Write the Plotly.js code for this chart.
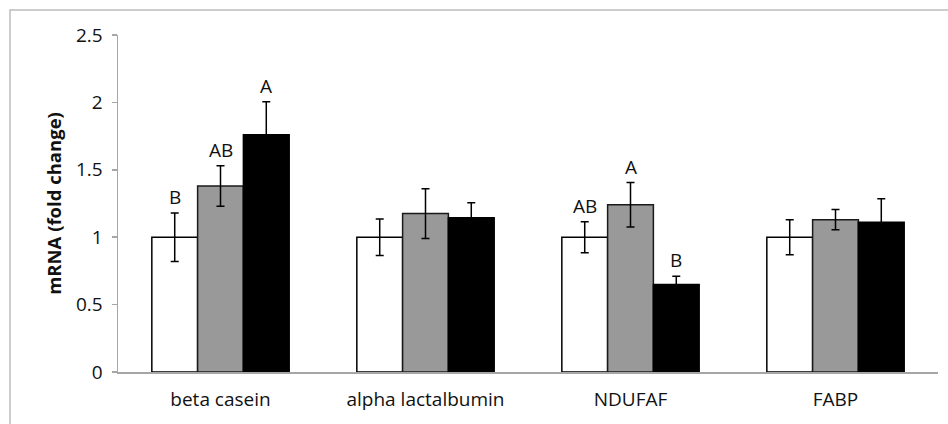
<!DOCTYPE html>
<html>
<head>
<meta charset="utf-8">
<script src="https://cdn.plot.ly/plotly-3.0.1.min.js"></script>
<style>html,body{margin:0;padding:0;background:#fff;}#chart{width:948px;height:424px;}</style>
</head>
<body>
<div id="chart"></div>
<script>
var categories = ["beta casein", "alpha lactalbumin", "NDUFAF", "FABP"];
var group1 = [1.00, 1.00, 1.00, 1.00];
var group1Err = [0.18, 0.135, 0.115, 0.13];
var group2 = [1.38, 1.175, 1.24, 1.13];
var group2Err = [0.15, 0.185, 0.165, 0.075];
var group3 = [1.76, 1.145, 0.65, 1.11];
var group3Err = [0.245, 0.11, 0.06, 0.175];
var letters1 = ["B", "", "AB", ""];
var letters2 = ["AB", "", "A", ""];
var letters3 = ["A", "", "B", ""];

var fills = ["#ffffff", "#999999", "#000000"];
var outlines = ["#000000", "#1a1a1a", "#000000"];
var series = [[group1, group1Err, letters1], [group2, group2Err, letters2], [group3, group3Err, letters3]];

var FONT = "'Open Sans', 'Noto Sans', sans-serif";

var traces = series.map(function (s, i) {
  return {
    type: "bar", x: categories, y: s[0], name: "g" + (i + 1),
    marker: {color: fills[i], line: {color: outlines[i], width: 1.5}},
    error_y: {type: "data", array: s[1], visible: true, color: "#000000", thickness: 1.5, width: 4},
    showlegend: false, hoverinfo: "none"
  };
});

var groupWidth = 0.67, n = 3;
var annotations = [];
series.forEach(function (s, i) {
  s[2].forEach(function (t, j) {
    if (!t) return;
    annotations.push({
      x: j + (i - (n - 1) / 2) * groupWidth / n, y: s[0][j] + s[1][j], xref: "x", yref: "y",
      text: t, showarrow: false, yanchor: "bottom", yshift: 1,
      font: {family: FONT, size: 19, color: "#111"}
    });
  });
});

var layout = {
  width: 948, height: 424,
  margin: {l: 118, r: 10, t: 35, b: 52},
  paper_bgcolor: "#ffffff", plot_bgcolor: "#ffffff",
  barmode: "group", bargap: 0.33, bargroupgap: 0,
  font: {family: FONT, size: 19, color: "#111"},
  xaxis: {
    type: "category", showline: true, linecolor: "#a6a6a6", linewidth: 1.5,
    ticks: "", showgrid: false, zeroline: false, ticklabelstandoff: 10,
    tickfont: {size: 19, color: "#111"}
  },
  yaxis: {
    range: [0, 2.5], dtick: 0.5, showline: true, linecolor: "#a6a6a6", linewidth: 1.5,
    ticks: "outside", ticklen: 5, tickcolor: "#a6a6a6", tickwidth: 1.5, ticklabelstandoff: 5,
    showgrid: false, zeroline: false, tickfont: {size: 19, color: "#111"},
    title: {text: "<b>mRNA (fold change)</b>", font: {size: 18.5, color: "#111"}, standoff: 9}
  },
  annotations: annotations,
  shapes: [{
    type: "rect", xref: "paper", yref: "paper",
    x0: (10 - 118) / 820, x1: (960 - 118) / 820, y0: (372 - 440) / 337, y1: (372 - 10) / 337,
    line: {color: "#bdbdbd", width: 1.5}, fillcolor: "rgba(0,0,0,0)", layer: "below"
  }]
};

Plotly.newPlot("chart", traces, layout, {displayModeBar: false, staticPlot: true});
</script>
</body>
</html>
